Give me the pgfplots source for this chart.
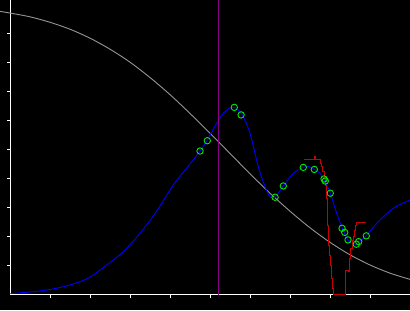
\documentclass[border=0pt]{standalone}
\usepackage{pgfplots}
\pgfplotsset{compat=1.18}
\usetikzlibrary{backgrounds}
\definecolor{cgray}{RGB}{150,150,150}
\definecolor{cblue}{RGB}{0,0,255}
\definecolor{cred}{RGB}{200,0,0}
\definecolor{cpurple}{RGB}{140,0,140}
\definecolor{cgreen}{RGB}{0,235,0}
\begin{document}
\begin{tikzpicture}[show background rectangle, inner frame sep=0pt,
  background rectangle/.style={fill=black, draw=none}]
\begin{axis}[
  scale only axis,
  width=399.7pt, height=294.7pt,
  xmin=0, xmax=9.9925, ymin=0, ymax=10.162,
  axis lines=left,
  every outer x axis line/.append style={-},
  every outer y axis line/.append style={-},
  axis line style={white, line width=1pt, -},
  xtick={1,2,3,4,5,6,7,8,9},
  ytick={1,2,3,4,5,6,7,8,9},
  xticklabels={}, yticklabels={},
  tick align=outside,
  major tick length=3.5pt,
  tick style={white, line width=1pt},
  clip=false,
]
% gray curve
\addplot[cgray, line width=0.9pt, smooth] coordinates {
(-0.26,9.77) (0,9.71) (0.5,9.58) (1,9.39) (1.5,9.15) (2,8.84) (2.5,8.46)
(3,8.01) (3.5,7.48) (4,6.89) (4.5,6.24) (5,5.56) (5.5,4.86) (6,4.16)
(6.5,3.49) (7,2.87) (7.5,2.30) (8,1.80) (8.5,1.37) (9,1.02) (9.5,0.74) (9.99,0.53)
};
% blue curve
\addplot[cblue, line width=0.9pt, smooth, tension=0.5] coordinates {
(0,0.04) (0.575,0.103) (0.9925,0.179) (1.4175,0.307) (1.825,0.490) (1.9925,0.603)
(2.41,1.024) (2.825,1.483) (3.2425,2.117) (3.66,2.886) (4.075,3.783) (4.4925,4.507)
(4.743,4.955)
(4.925,5.334) (5.16,5.91) (5.325,6.255) (5.468,6.42) (5.6,6.462) (5.785,6.231)
(5.993,5.566) (6.2,4.414) (6.368,3.724) (6.493,3.379) (6.618,3.359) (6.825,3.748)
(7.075,4.186) (7.325,4.393) (7.455,4.42) (7.6,4.324) (7.743,4.186) (7.843,3.99)
(8.0,3.497) (8.16,2.807) (8.3,2.29) (8.443,1.886) (8.555,1.766) (8.65,1.738)
(8.71,1.817) (8.9,2.034) (9.16,2.462) (9.575,2.979) (9.993,3.266)
};
% red step line
\addplot[cred, line width=0.9pt, const plot] coordinates {
(7.343,4.669) (7.6,4.759) (7.635,4.669) (7.76,4.531) (7.785,4.414) (7.81,4.241)
(7.843,4.024) (7.868,3.783) (7.893,3.324) (7.918,2.862) (7.93,2.403) (7.95,1.714)
(7.985,1.369) (8.01,1.024) (8.035,0.566) (8.06,0.221) (8.075,0) (8.383,0.852)
(8.443,0.817) (8.485,1.255) (8.51,1.6) (8.543,1.886) (8.568,2.0) (8.593,2.231)
(8.625,2.379) (8.66,2.497) (8.893,2.497)
};
% purple vertical
\addplot[cpurple, line width=1.2pt] coordinates {(5.2,0) (5.2,10.162)};
% green circles
\addplot[only marks, mark=o, mark size=3.2pt, cgreen, line width=0.9pt] coordinates {
(4.743,4.955) (4.925,5.31) (5.6,6.46) (5.77,6.2) (6.62,3.36) (6.825,3.75)
(7.325,4.39) (7.6,4.32) (7.843,3.99) (7.875,3.92) (8.0,3.50) (8.293,2.29)
(8.36,2.15) (8.443,1.89) (8.65,1.74) (8.71,1.83) (8.9,2.03)
};
\coordinate (bl) at (axis cs:-0.2575,-0.5276);
\coordinate (tr) at (axis cs:9.9925,10.162);
\end{axis}
\pgfresetboundingbox
\path (bl) rectangle (tr);
\end{tikzpicture}
\end{document}
